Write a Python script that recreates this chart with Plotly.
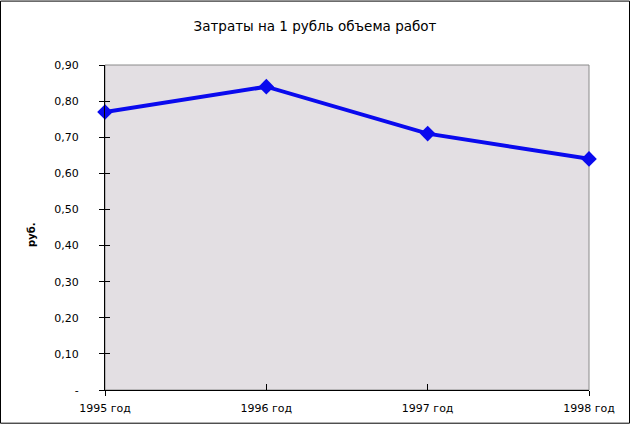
import plotly.graph_objects as go

years = ["1995 год", "1996 год", "1997 год", "1998 год"]
values = [0.77, 0.84, 0.71, 0.64]
y_ticks = [0, 0.1, 0.2, 0.3, 0.4, 0.5, 0.6, 0.7, 0.8, 0.9]
y_labels = ["-", "0,10", "0,20", "0,30", "0,40", "0,50", "0,60", "0,70", "0,80", "0,90"]

W, H = 630, 427
L, R, T, B = 105, 41, 65, 34
pw, ph = W - L - R, H - T - B

fig = go.Figure()
fig.add_trace(go.Scatter(
    x=years, y=values, mode="lines+markers",
    line=dict(color="#0a0aee", width=4),
    marker=dict(symbol="diamond", size=12, color="#0a0aee"),
    cliponaxis=False,
))
# overlay axes for Excel-style tick marks
fig.add_trace(go.Scatter(x=years, y=values, yaxis="y2", xaxis="x2", mode="none", showlegend=False, hoverinfo="skip"))
fig.add_trace(go.Scatter(x=years, y=values, yaxis="y2", xaxis="x3", mode="none", showlegend=False, hoverinfo="skip"))

font = dict(family="DejaVu Sans", size=11, color="#000000")
common_x = dict(type="category", range=[0, 3], showgrid=False, zeroline=False)
fig.update_layout(
    width=W, height=H,
    margin=dict(l=L, r=R, t=T, b=B),
    paper_bgcolor="#ffffff",
    plot_bgcolor="#e3dfe3",
    showlegend=False,
    title=dict(text="Затраты на 1 рубль объема работ", x=0.5, xref="container",
               y=1 - 26 / H, yref="container", yanchor="middle",
               font=dict(family="DejaVu Sans", size=13.5, color="#000000")),
    xaxis=dict(**common_x, showline=True, linecolor="#000000", linewidth=1, ticks="",
               tickfont=font, ticklabelstandoff=8),
    xaxis2=dict(**common_x, overlaying="x", showline=False, ticks="inside", ticklen=6,
                tickcolor="#000000", showticklabels=False, tickvals=years[1:]),
    xaxis3=dict(**common_x, overlaying="x", showline=False, ticks="outside", ticklen=5,
                tickcolor="#000000", showticklabels=False, tickvals=[years[0], years[-1]]),
    yaxis=dict(range=[0, 0.9], tickvals=y_ticks, ticktext=y_labels, showgrid=False, showline=True,
               linecolor="#000000", linewidth=1, ticks="outside", ticklen=5, tickcolor="#000000",
               tickfont=font, ticklabelstandoff=18, zeroline=False),
    yaxis2=dict(range=[0, 0.9], overlaying="y", tickvals=y_ticks, showgrid=False, showline=False,
                ticks="inside", ticklen=5, tickcolor="#000000", showticklabels=False, zeroline=False),
)
fig.add_shape(type="rect", xref="paper", yref="paper", x0=0, x1=1, y0=0, y1=1,
              line=dict(color="#8a8a8a", width=1), layer="below")
# outer border
fig.add_shape(type="rect", xref="paper", yref="paper",
              x0=(0.5 - L) / pw, x1=(W - 0.5 - L) / pw,
              y0=(0.5 - B) / ph, y1=(H - 0.5 - B) / ph,
              line=dict(color="#000000", width=1))
fig.add_annotation(text="<b>руб.</b>", textangle=-90, xref="paper", yref="paper",
                   x=(24 - L) / pw, y=(H - B - 237) / ph, showarrow=False,
                   font=dict(family="DejaVu Sans", size=10, color="#000000"))
fig.write_html("out.html", config={"displayModeBar": False},
               post_script="document.body.style.margin='0';")
